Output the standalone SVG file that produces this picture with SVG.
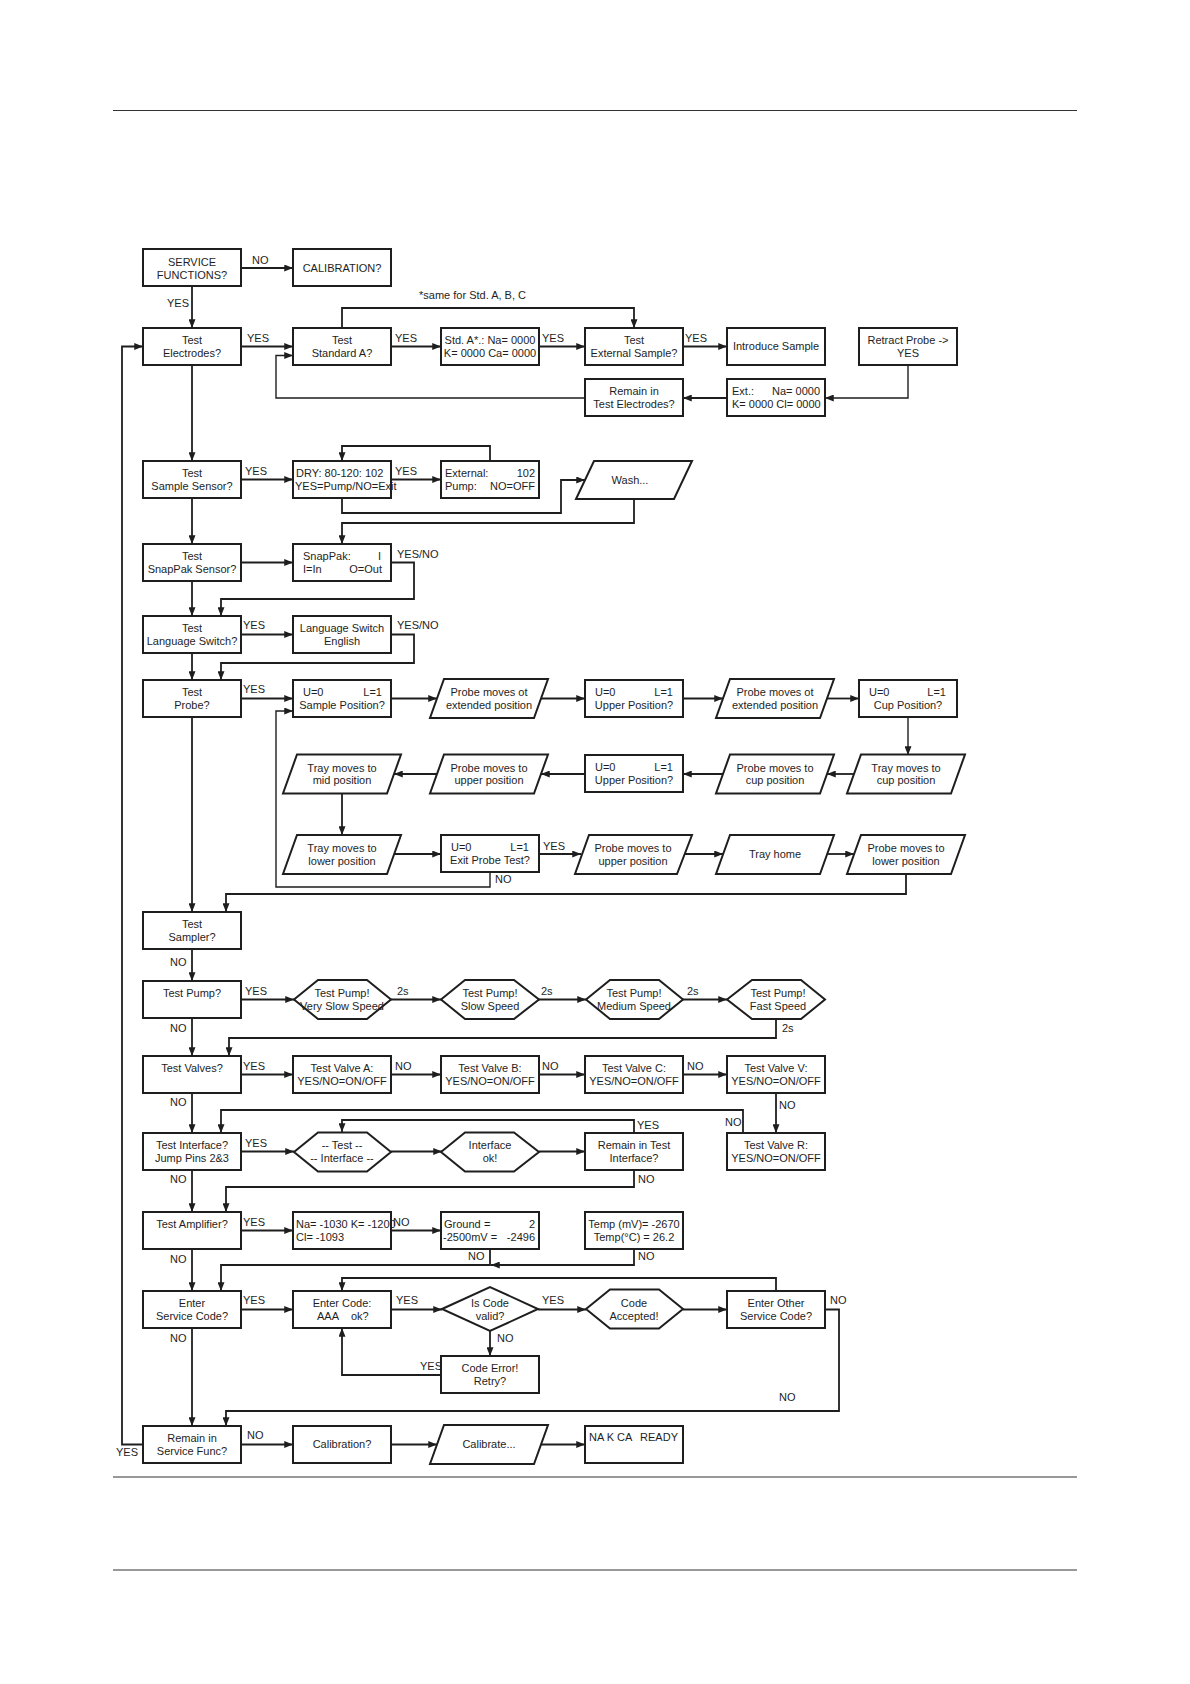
<svg xmlns="http://www.w3.org/2000/svg" width="1190" height="1684" viewBox="0 0 1190 1684">
<style>
.b{fill:#fff;stroke:#1e1e1e;stroke-width:2}
.c{fill:none;stroke:#1e1e1e;stroke-width:1.8;marker-end:url(#a)}
.cn{fill:none;stroke:#1e1e1e;stroke-width:1.8}
.pg{fill:none;stroke:#333;stroke-width:1}
text{font-family:"Liberation Sans",Arial,sans-serif;font-size:11px;fill:#1e1e1e}
.m{text-anchor:middle}
.e{text-anchor:end}
</style>
<defs>
<marker id="a" viewBox="0 0 10 8" refX="10" refY="4" markerWidth="9" markerHeight="7" markerUnits="userSpaceOnUse" orient="auto"><path d="M0,0 L10,4 L0,8 z" fill="#1e1e1e"/></marker>
</defs>
<rect width="1190" height="1684" fill="#fff"/>
<g id="page">
<line class="pg" x1="113" y1="110.5" x2="1077" y2="110.5"/>
<line class="pg" x1="113" y1="1477" x2="1077" y2="1477"/>
<line class="pg" x1="113" y1="1570" x2="1077" y2="1570"/>
</g>
<g id="connectors">
<path class="c" d="M241,268 H293"/>
<path class="c" d="M192,286 V328"/>
<path class="c" d="M241,346.5 H293"/>
<path class="c" d="M391,346.5 H441"/>
<path class="c" d="M539,346.5 H585"/>
<path class="c" d="M683,346.5 H727"/>
<path class="c" d="M342,328 V308 H634 V328"/>
<path class="c" d="M908,365 V398 H825" style="stroke-width:1.4"/>
<path class="c" d="M727,398 H683"/>
<path class="c" d="M585,398 H276 V355.5 H293" style="stroke-width:1.4"/>
<path class="c" d="M192,365 V461"/>
<path class="c" d="M241,479.5 H293"/>
<path class="c" d="M391,479.5 H441"/>
<path class="c" d="M490,461 V446 H342 V461"/>
<path class="c" d="M342,498 V513 H561 V480 H585"/>
<path class="c" d="M634,499 V523 H342 V544"/>
<path class="c" d="M192,498 V544"/>
<path class="c" d="M241,562.5 H293"/>
<path class="c" d="M391,562.5 H414 V599 H221 V616"/>
<path class="c" d="M192,581 V616"/>
<path class="c" d="M241,634.5 H293"/>
<path class="c" d="M391,634.5 H414 V663 H221 V680"/>
<path class="c" d="M192,653 V680"/>
<path class="c" d="M241,698.5 H293"/>
<path class="c" d="M391,698.5 H437"/>
<path class="c" d="M541,698.5 H585"/>
<path class="c" d="M683,698.5 H723"/>
<path class="c" d="M827,698.5 H859"/>
<path class="c" d="M908,717 V755" style="stroke-width:1.4"/>
<path class="c" d="M854,774 H827"/>
<path class="c" d="M723,774 H683"/>
<path class="c" d="M585,774 H541"/>
<path class="c" d="M437,774 H394"/>
<path class="c" d="M342,793.5 V835"/>
<path class="c" d="M394,854 H441"/>
<path class="c" d="M539,854 H581"/>
<path class="c" d="M685,854 H723"/>
<path class="c" d="M827,854 H854"/>
<path class="c" d="M490,872 V887 H276 V711 H293" style="stroke-width:1.4"/>
<path class="c" d="M906,873.5 V894 H226 V912"/>
<path class="c" d="M192,717 V912"/>
<path class="c" d="M192,949 V981"/>
<path class="c" d="M241,999.5 H294"/>
<path class="c" d="M391,999.5 H441"/>
<path class="c" d="M539,999.5 H586"/>
<path class="c" d="M683,999.5 H727"/>
<path class="c" d="M776,1019 V1038 H229 V1056"/>
<path class="c" d="M192,1018 V1056"/>
<path class="c" d="M241,1074.5 H293"/>
<path class="c" d="M391,1074.5 H441"/>
<path class="c" d="M539,1074.5 H585"/>
<path class="c" d="M683,1074.5 H727"/>
<path class="c" d="M776,1093 V1133"/>
<path class="c" d="M743,1133 V1110 H221 V1133"/>
<path class="c" d="M192,1093 V1133"/>
<path class="c" d="M241,1151.5 H294"/>
<path class="c" d="M391,1151.5 H442"/>
<path class="c" d="M539,1151.5 H585"/>
<path class="c" d="M634,1133 V1120 H342 V1132"/>
<path class="c" d="M634,1170 V1187 H226 V1212"/>
<path class="c" d="M192,1170 V1212"/>
<path class="c" d="M241,1230.5 H293"/>
<path class="c" d="M391,1230.5 H441"/>
<path class="c" d="M490,1249 V1265 H221 V1291"/>
<path class="c" d="M634,1249 V1265 H491"/>
<path class="c" d="M192,1249 V1291"/>
<path class="c" d="M241,1309.5 H293"/>
<path class="c" d="M391,1309.5 H442"/>
<path class="c" d="M538,1309.5 H586"/>
<path class="c" d="M683,1309.5 H727"/>
<path class="c" d="M776,1291 V1278 H342 V1291"/>
<path class="c" d="M490,1331 V1356"/>
<path class="c" d="M441,1375 H342 V1328"/>
<path class="c" d="M825,1309.5 H839 V1411 H226 V1426"/>
<path class="c" d="M192,1328 V1426"/>
<path class="c" d="M241,1444.5 H293"/>
<path class="c" d="M391,1444.5 H437"/>
<path class="c" d="M541,1444.5 H585"/>
<path class="c" d="M143,1444.5 H122 V346.5 H143"/>
</g>
<g id="labels">
<text x="252" y="264">NO</text>
<text x="167" y="307">YES</text>
<text x="419" y="299">*same for Std. A, B, C</text>
<text x="247" y="342">YES</text>
<text x="395" y="342">YES</text>
<text x="542" y="342">YES</text>
<text x="685" y="342">YES</text>
<text x="245" y="475">YES</text>
<text x="395" y="475">YES</text>
<text x="397" y="558">YES/NO</text>
<text x="243" y="629">YES</text>
<text x="397" y="629">YES/NO</text>
<text x="243" y="693">YES</text>
<text x="543" y="850">YES</text>
<text x="495" y="883">NO</text>
<text x="170" y="966">NO</text>
<text x="245" y="995">YES</text>
<text x="397" y="995">2s</text>
<text x="541" y="995">2s</text>
<text x="687" y="995">2s</text>
<text x="782" y="1032">2s</text>
<text x="170" y="1032">NO</text>
<text x="243" y="1070">YES</text>
<text x="395" y="1070">NO</text>
<text x="542" y="1070">NO</text>
<text x="687" y="1070">NO</text>
<text x="779" y="1109">NO</text>
<text x="725" y="1126">NO</text>
<text x="170" y="1106">NO</text>
<text x="245" y="1147">YES</text>
<text x="637" y="1129">YES</text>
<text x="638" y="1183">NO</text>
<text x="170" y="1183">NO</text>
<text x="243" y="1226">YES</text>
<text x="393" y="1226">NO</text>
<text x="468" y="1260">NO</text>
<text x="638" y="1260">NO</text>
<text x="170" y="1263">NO</text>
<text x="243" y="1304">YES</text>
<text x="396" y="1304">YES</text>
<text x="542" y="1304">YES</text>
<text x="497" y="1342">NO</text>
<text x="420" y="1370">YES</text>
<text x="830" y="1304">NO</text>
<text x="779" y="1401">NO</text>
<text x="170" y="1342">NO</text>
<text x="116" y="1456">YES</text>
<text x="247" y="1439">NO</text>
</g>
<g id="n_service"><rect class="b" x="143" y="249" width="98" height="37"/><text class="m" x="192" y="266">SERVICE</text><text class="m" x="192" y="279">FUNCTIONS?</text></g>
<g id="n_calibration_top"><rect class="b" x="293" y="249" width="98" height="37"/><text class="m" x="342" y="272">CALIBRATION?</text></g>
<g id="n_test_electrodes"><rect class="b" x="143" y="328" width="98" height="37"/><text class="m" x="192" y="344">Test</text><text class="m" x="192" y="357">Electrodes?</text></g>
<g id="n_test_std_a"><rect class="b" x="293" y="328" width="98" height="37"/><text class="m" x="342" y="344">Test</text><text class="m" x="342" y="357">Standard A?</text></g>
<g id="n_std_a"><rect class="b" x="441" y="328" width="98" height="37"/><text class="m" x="490" y="344">Std. A*.: Na= 0000</text><text class="m" x="490" y="357">K= 0000 Ca= 0000</text></g>
<g id="n_test_ext"><rect class="b" x="585" y="328" width="98" height="37"/><text class="m" x="634" y="344">Test</text><text class="m" x="634" y="357">External Sample?</text></g>
<g id="n_introduce"><rect class="b" x="727" y="328" width="98" height="37"/><text class="m" x="776" y="350">Introduce Sample</text></g>
<g id="n_retract"><rect class="b" x="859" y="328" width="98" height="37"/><text class="m" x="908" y="344">Retract Probe -&gt;</text><text class="m" x="908" y="357">YES</text></g>
<g id="n_ext_result"><rect class="b" x="727" y="379" width="98" height="37"/><text x="732" y="395">Ext.:</text><text class="e" x="820" y="395">Na= 0000</text><text x="732" y="408">K= 0000 Cl= 0000</text></g>
<g id="n_remain_te"><rect class="b" x="585" y="379" width="98" height="37"/><text class="m" x="634" y="395">Remain in</text><text class="m" x="634" y="408">Test Electrodes?</text></g>
<g id="n_sample_sensor"><rect class="b" x="143" y="461" width="98" height="37"/><text class="m" x="192" y="477">Test</text><text class="m" x="192" y="490">Sample Sensor?</text></g>
<g id="n_dry"><rect class="b" x="293" y="461" width="98" height="37"/><text x="296" y="477">DRY: 80-120: 102</text><text x="295" y="490">YES=Pump/NO=Exit</text></g>
<g id="n_external"><rect class="b" x="441" y="461" width="98" height="37"/><text x="445" y="477">External:</text><text class="e" x="535" y="477">102</text><text x="445" y="490">Pump:</text><text class="e" x="535" y="490">NO=OFF</text></g>
<g id="n_wash"><polygon class="b" points="594,461 692,461 674,499 576,499"/><text class="m" x="630" y="484">Wash...</text></g>
<g id="n_snappak_sensor"><rect class="b" x="143" y="544" width="98" height="37"/><text class="m" x="192" y="560">Test</text><text class="m" x="192" y="573">SnapPak Sensor?</text></g>
<g id="n_snappak"><rect class="b" x="293" y="544" width="98" height="37"/><text x="303" y="560">SnapPak:</text><text class="e" x="381" y="560">I</text><text x="303" y="573">I=In</text><text class="e" x="382" y="573">O=Out</text></g>
<g id="n_lang_switch"><rect class="b" x="143" y="616" width="98" height="37"/><text class="m" x="192" y="632">Test</text><text class="m" x="192" y="645">Language Switch?</text></g>
<g id="n_lang"><rect class="b" x="293" y="616" width="98" height="37"/><text class="m" x="342" y="632">Language Switch</text><text class="m" x="342" y="645">English</text></g>
<g id="n_test_probe"><rect class="b" x="143" y="680" width="98" height="37"/><text class="m" x="192" y="696">Test</text><text class="m" x="192" y="709">Probe?</text></g>
<g id="n_sample_pos"><rect class="b" x="293" y="680" width="98" height="37"/><text x="303" y="696">U=0</text><text class="e" x="382" y="696">L=1</text><text class="m" x="342" y="709">Sample Position?</text></g>
<g id="n_p1"><polygon class="b" points="444,679 548,679 534,718 430,718"/><text class="m" x="489" y="696">Probe moves ot</text><text class="m" x="489" y="708.5">extended position</text></g>
<g id="n_upper1"><rect class="b" x="585" y="680" width="98" height="37"/><text x="595" y="696">U=0</text><text class="e" x="673" y="696">L=1</text><text class="m" x="634" y="709">Upper Position?</text></g>
<g id="n_p2"><polygon class="b" points="730,679 834,679 820,718 716,718"/><text class="m" x="775" y="696">Probe moves ot</text><text class="m" x="775" y="708.5">extended position</text></g>
<g id="n_cup_pos"><rect class="b" x="859" y="680" width="98" height="37"/><text x="869" y="696">U=0</text><text class="e" x="946" y="696">L=1</text><text class="m" x="908" y="709">Cup Position?</text></g>
<g id="n_tray_cup"><polygon class="b" points="861,754.5 965,754.5 951,793.5 847,793.5"/><text class="m" x="906" y="771.5">Tray moves to</text><text class="m" x="906" y="784">cup position</text></g>
<g id="n_probe_cup"><polygon class="b" points="730,754.5 834,754.5 820,793.5 716,793.5"/><text class="m" x="775" y="771.5">Probe moves to</text><text class="m" x="775" y="784">cup position</text></g>
<g id="n_upper2"><rect class="b" x="585" y="755" width="98" height="37"/><text x="595" y="771">U=0</text><text class="e" x="673" y="771">L=1</text><text class="m" x="634" y="784">Upper Position?</text></g>
<g id="n_probe_upper"><polygon class="b" points="444,754.5 548,754.5 534,793.5 430,793.5"/><text class="m" x="489" y="771.5">Probe moves to</text><text class="m" x="489" y="784">upper position</text></g>
<g id="n_tray_mid"><polygon class="b" points="297,754.5 401,754.5 387,793.5 283,793.5"/><text class="m" x="342" y="771.5">Tray moves to</text><text class="m" x="342" y="784">mid position</text></g>
<g id="n_tray_lower"><polygon class="b" points="297,835 401,835 387,874 283,874"/><text class="m" x="342" y="852">Tray moves to</text><text class="m" x="342" y="864.5">lower position</text></g>
<g id="n_exit"><rect class="b" x="441" y="835" width="98" height="37"/><text x="451" y="851">U=0</text><text class="e" x="529" y="851">L=1</text><text class="m" x="490" y="864">Exit Probe Test?</text></g>
<g id="n_probe_upper3"><polygon class="b" points="589,835 692,835 677,874 575,874"/><text class="m" x="633" y="852">Probe moves to</text><text class="m" x="633" y="864.5">upper position</text></g>
<g id="n_tray_home"><polygon class="b" points="730,835 834,835 820,874 716,874"/><text class="m" x="775" y="858">Tray home</text></g>
<g id="n_probe_lower"><polygon class="b" points="861,835 965,835 951,874 847,874"/><text class="m" x="906" y="852">Probe moves to</text><text class="m" x="906" y="864.5">lower position</text></g>
<g id="n_sampler"><rect class="b" x="143" y="912" width="98" height="37"/><text class="m" x="192" y="928">Test</text><text class="m" x="192" y="941">Sampler?</text></g>
<g id="n_pump"><rect class="b" x="143" y="981" width="98" height="37"/><text class="m" x="192" y="997">Test Pump?</text></g>
<g id="n_h1"><polygon class="b" points="294,999.5 318,980 367,980 391,999.5 367,1019 318,1019"/><text class="m" x="342" y="997">Test Pump!</text><text class="m" x="342" y="1009.5">Very Slow Speed</text></g>
<g id="n_h2"><polygon class="b" points="441,999.5 465,980 514,980 539,999.5 514,1019 465,1019"/><text class="m" x="490" y="997">Test Pump!</text><text class="m" x="490" y="1009.5">Slow Speed</text></g>
<g id="n_h3"><polygon class="b" points="586,999.5 610,980 659,980 683,999.5 659,1019 610,1019"/><text class="m" x="634" y="997">Test Pump!</text><text class="m" x="634" y="1009.5">Medium Speed</text></g>
<g id="n_h4"><polygon class="b" points="727,999.5 752,980 801,980 825,999.5 801,1019 752,1019"/><text class="m" x="778" y="997">Test Pump!</text><text class="m" x="778" y="1009.5">Fast Speed</text></g>
<g id="n_valves"><rect class="b" x="143" y="1056" width="98" height="37"/><text class="m" x="192" y="1072">Test Valves?</text></g>
<g id="n_valve_a"><rect class="b" x="293" y="1056" width="98" height="37"/><text class="m" x="342" y="1072">Test Valve A:</text><text class="m" x="342" y="1085">YES/NO=ON/OFF</text></g>
<g id="n_valve_b"><rect class="b" x="441" y="1056" width="98" height="37"/><text class="m" x="490" y="1072">Test Valve B:</text><text class="m" x="490" y="1085">YES/NO=ON/OFF</text></g>
<g id="n_valve_c"><rect class="b" x="585" y="1056" width="98" height="37"/><text class="m" x="634" y="1072">Test Valve C:</text><text class="m" x="634" y="1085">YES/NO=ON/OFF</text></g>
<g id="n_valve_v"><rect class="b" x="727" y="1056" width="98" height="37"/><text class="m" x="776" y="1072">Test Valve V:</text><text class="m" x="776" y="1085">YES/NO=ON/OFF</text></g>
<g id="n_valve_r"><rect class="b" x="727" y="1133" width="98" height="37"/><text class="m" x="776" y="1149">Test Valve R:</text><text class="m" x="776" y="1162">YES/NO=ON/OFF</text></g>
<g id="n_interface"><rect class="b" x="143" y="1133" width="98" height="37"/><text class="m" x="192" y="1149">Test Interface?</text><text class="m" x="192" y="1162">Jump Pins 2&amp;3</text></g>
<g id="n_h_test_if"><polygon class="b" points="294,1152 318,1132.5 367,1132.5 391,1152 367,1171.5 318,1171.5"/><text class="m" x="342" y="1149">-- Test --</text><text class="m" x="342" y="1162">-- Interface --</text></g>
<g id="n_h_if_ok"><polygon class="b" points="441,1152 465,1132.5 514,1132.5 539,1152 514,1171.5 465,1171.5"/><text class="m" x="490" y="1149">Interface</text><text class="m" x="490" y="1162">ok!</text></g>
<g id="n_remain_ti"><rect class="b" x="585" y="1133" width="98" height="37"/><text class="m" x="634" y="1149">Remain in Test</text><text class="m" x="634" y="1162">Interface?</text></g>
<g id="n_amplifier"><rect class="b" x="143" y="1212" width="98" height="37"/><text class="m" x="192" y="1228">Test Amplifier?</text></g>
<g id="n_na"><rect class="b" x="293" y="1212" width="98" height="37"/><text x="296" y="1228">Na= -1030 K= -1200</text><text x="296" y="1241">Cl= -1093</text></g>
<g id="n_ground"><rect class="b" x="441" y="1212" width="98" height="37"/><text x="444" y="1228">Ground</text><text x="484" y="1228">=</text><text class="e" x="535" y="1228">2</text><text x="443" y="1241">-2500mV =</text><text class="e" x="535" y="1241">-2496</text></g>
<g id="n_temp"><rect class="b" x="585" y="1212" width="98" height="37"/><text class="m" x="634" y="1228">Temp (mV)= -2670</text><text class="m" x="634" y="1241">Temp(°C) =  26.2</text></g>
<g id="n_enter_sc"><rect class="b" x="143" y="1291" width="98" height="37"/><text class="m" x="192" y="1307">Enter</text><text class="m" x="192" y="1320">Service Code?</text></g>
<g id="n_enter_code"><rect class="b" x="293" y="1291" width="98" height="37"/><text class="m" x="342" y="1307">Enter Code:</text><text x="317" y="1320">AAA</text><text x="351" y="1320">ok?</text></g>
<g id="n_is_valid"><polygon class="b" points="442,1309 490,1287 538,1309 490,1331"/><text class="m" x="490" y="1307">Is Code</text><text class="m" x="490" y="1320">valid?</text></g>
<g id="n_code_error"><rect class="b" x="441" y="1356" width="98" height="37"/><text class="m" x="490" y="1372">Code Error!</text><text class="m" x="490" y="1385">Retry?</text></g>
<g id="n_code_acc"><polygon class="b" points="586,1309 610,1289.5 659,1289.5 683,1309 659,1328.5 610,1328.5"/><text class="m" x="634" y="1307">Code</text><text class="m" x="634" y="1320">Accepted!</text></g>
<g id="n_enter_other"><rect class="b" x="727" y="1291" width="98" height="37"/><text class="m" x="776" y="1307">Enter Other</text><text class="m" x="776" y="1320">Service Code?</text></g>
<g id="n_remain_sf"><rect class="b" x="143" y="1426" width="98" height="37"/><text class="m" x="192" y="1442">Remain in</text><text class="m" x="192" y="1455">Service Func?</text></g>
<g id="n_calibration"><rect class="b" x="293" y="1426" width="98" height="37"/><text class="m" x="342" y="1448">Calibration?</text></g>
<g id="n_calibrate"><polygon class="b" points="444,1425 548,1425 534,1464 430,1464"/><text class="m" x="489" y="1448">Calibrate...</text></g>
<g id="n_ready"><rect class="b" x="585" y="1426" width="98" height="37"/><text x="589" y="1441">NA K CA</text><text class="e" x="678" y="1441">READY</text></g>
</svg>
